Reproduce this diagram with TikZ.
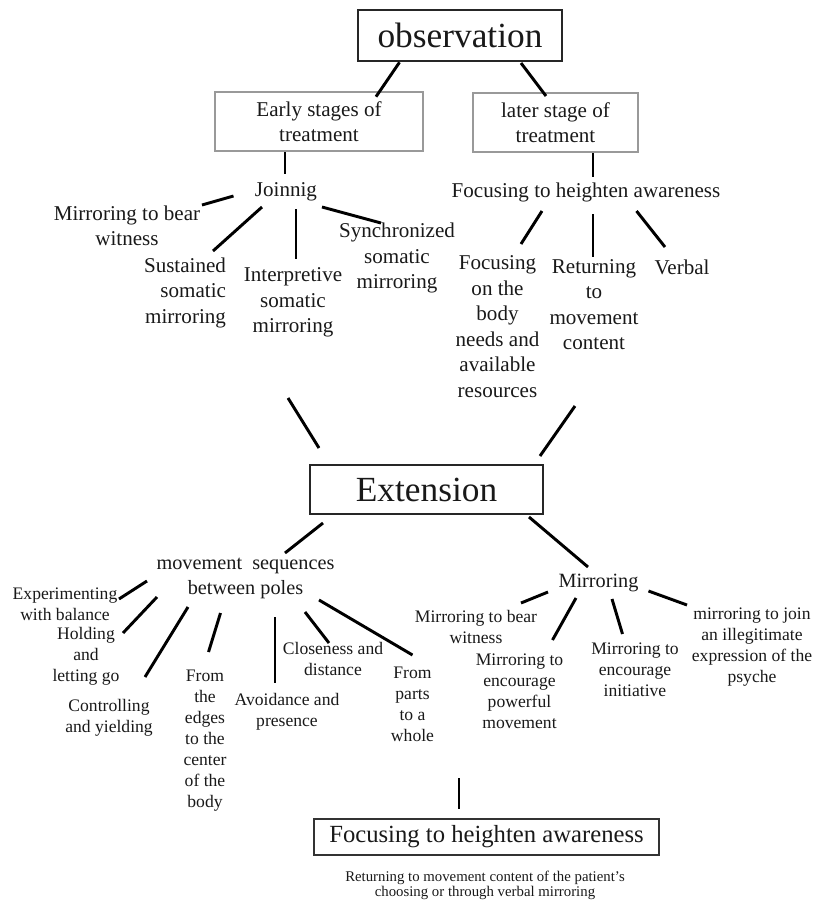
\documentclass[tikz,border=0pt]{standalone}
\usepackage{fontspec}
\setmainfont{Liberation Serif}
\usetikzlibrary{calc}

\begin{document}
\begin{tikzpicture}[x=.75pt,y=-.75pt,
  link/.style={line width=2.2pt,black},
  headbox/.style={draw=black!85,line width=1.4pt,inner sep=0pt,text=black!90,font=\fontsize{26.5}{30}\selectfont},
  stagebox/.style={draw=black!40,line width=1pt,inner sep=0pt,align=center,text=black!90,font=\fontsize{15.8}{19.1}\selectfont},
  twig/.style={inner sep=0pt,align=center,text=black!90,font=\fontsize{15.8}{19.1}\selectfont},
  branch/.style={inner sep=0pt,align=center,text=black!90,font=\fontsize{15.2}{18.75}\selectfont},
  leaf/.style={inner sep=0pt,align=center,text=black!90,font=\fontsize{13.2}{15.75}\selectfont}]
\path[use as bounding box] (0,0) rectangle (813,901);

\node[headbox,minimum width=153pt,minimum height=38.25pt] (obs) at (460,35.5) {observation};
\node[stagebox,minimum width=156pt,minimum height=44.25pt] (early) at (319,121.5) {Early stages of\\treatment};
\node[stagebox,minimum width=123.75pt,minimum height=44.25pt] (later) at (555.5,122.5) {later stage of\\treatment};
\node[twig] (joinnig) at (286,192) {Joinnig};
\node[twig] (focus) at (586,192) {Focusing to heighten awareness};
\node[twig] (mirbear) at (127,226) {Mirroring to bear\\witness};
\node[twig,align=right] (sustained) at (185,292.5) {Sustained\\somatic\\mirroring};
\node[twig] (interp) at (293,302.5) {Interpretive\\somatic\\mirroring};
\node[twig] (synch) at (397,258) {Synchronized\\somatic\\mirroring};
\node[twig] (focbody) at (497.5,326.5) {Focusing\\on the\\body\\needs and\\available\\resources};
\node[twig] (returning) at (594,304.5) {Returning\\to\\movement\\content};
\node[twig] (verbal) at (682,267) {Verbal};

\node[headbox,minimum width=174.75pt,minimum height=36.75pt] (ext) at (426.5,489.5) {Extension};
\node[branch] (movseq) at (245.5,578.5) {movement\ \ sequences\\between poles};
\node[branch] (mirroring) at (598.5,583) {Mirroring};
\node[leaf] (experimenting) at (65,604) {Experimenting\\with balance};
\node[leaf] (holding) at (86,656.5) {Holding\\and\\letting go};
\node[leaf] (controlling) at (109,717.5) {Controlling\\and yielding};
\node[leaf] (fromedges) at (205,741) {From\\the\\edges\\to the\\center\\of the\\body};
\node[leaf] (avoidance) at (287,711.5) {Avoidance and\\presence};
\node[leaf] (closeness) at (333,659) {Closeness and\\distance};
\node[leaf] (fromparts) at (412.5,704) {From\\parts\\to a\\whole};
\node[leaf] (mirbearB) at (476,627) {Mirroring to bear\\witness};
\node[leaf] (powerful) at (519.5,691) {Mirroring to\\encourage\\powerful\\movement};
\node[leaf] (initiative) at (635,670) {Mirroring to\\encourage\\initiative};
\node[leaf] (join) at (752,647.5) {mirroring to join\\an illegitimate\\expression of the\\psyche};

\node[draw=black!80,line width=1.1pt,minimum width=258.75pt,minimum height=27pt,inner sep=0pt,text=black!90,font=\fontsize{18.5}{22}\selectfont] (focbox) at (486.5,837) {Focusing to heighten awareness};
\node[inner sep=0pt,align=center,text=black!90,font=\fontsize{11.1}{11.25}\selectfont] (caption) at (485,885.5) {Returning to movement content of the patient's\\choosing or through verbal mirroring};

\draw[link] ($(obs)+(-60.5,26.8)$) -- ($(early)+(57,-24.8)$);
\draw[link] ($(obs)+(61,27.5)$) -- ($(later)+(-9.5,-26.5)$);
\draw[link] ($(early)+(-34,30.5)$) -- ($(joinnig)+(-1,-18)$);
\draw[link] ($(later)+(37.5,30.5)$) -- ($(focus)+(7,-15)$);
\draw[link] ($(joinnig)+(-52.5,4)$) -- ($(mirbear)+(75,-21)$);
\draw[link] ($(joinnig)+(-24,15)$) -- ($(sustained)+(28,-41.5)$);
\draw[link] ($(joinnig)+(10,17)$) -- ($(interp)+(3,-43.5)$);
\draw[link] ($(joinnig)+(36,15)$) -- ($(synch)+(-16,-35)$);
\draw[link] ($(focus)+(-44,19)$) -- ($(focbody)+(23.5,-82.5)$);
\draw[link] ($(focus)+(7,22)$) -- ($(returning)+(-1,-47.5)$);
\draw[link] ($(focus)+(50.5,19)$) -- ($(verbal)+(-17,-20)$);
\draw[link] ($(interp)+(-5,95.5)$) -- ($(ext)+(-107.5,-41.5)$);
\draw[link] ($(returning)+(-19,101.5)$) -- ($(ext)+(113.5,-33.5)$);
\draw[link] ($(ext)+(-103.5,33.5)$) -- ($(movseq)+(39.5,-25.5)$);
\draw[link] ($(ext)+(102.5,27.5)$) -- ($(mirroring)+(-10.5,-16)$);
\draw[link] ($(movseq)+(-98.5,2.5)$) -- ($(experimenting)+(54,-5)$);
\draw[link] ($(movseq)+(-88.5,18.5)$) -- ($(holding)+(37,-23.5)$);
\draw[link] ($(movseq)+(-57.5,28.5)$) -- ($(controlling)+(36,-40.5)$);
\draw[link] ($(movseq)+(-25,34.5)$) -- ($(fromedges)+(3.5,-89)$);
\draw[link] ($(movseq)+(29.5,38.5)$) -- ($(avoidance)+(-12,-28.5)$);
\draw[link] ($(movseq)+(59.5,33.5)$) -- ($(closeness)+(-4,-16)$);
\draw[link] ($(movseq)+(73.5,21.5)$) -- ($(fromparts)+(0,-49)$);
\draw[link] ($(mirroring)+(-50.5,9)$) -- ($(mirbearB)+(45,-24)$);
\draw[link] ($(mirroring)+(-22.5,15)$) -- ($(powerful)+(33,-51)$);
\draw[link] ($(mirroring)+(13.5,16)$) -- ($(initiative)+(-12.5,-36)$);
\draw[link] ($(mirroring)+(50,8)$) -- ($(join)+(-65,-42.5)$);
\draw[link] ($(ext)+(32.5,288.5)$) -- ($(focbox)+(-27.5,-28)$);
\end{tikzpicture}
\end{document}
